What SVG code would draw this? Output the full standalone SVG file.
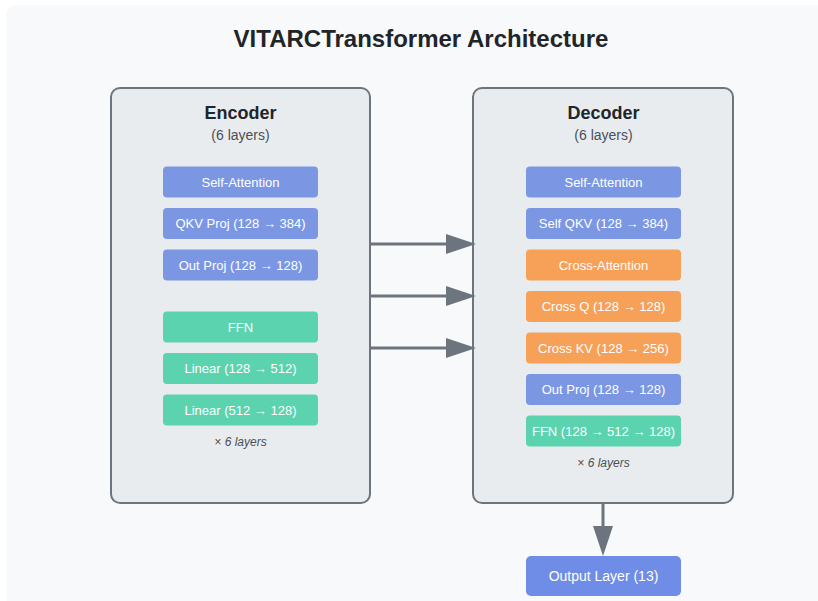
<svg xmlns="http://www.w3.org/2000/svg" width="818" height="601" viewBox="0 0 818 601">
<defs>
<marker id="ah" markerUnits="userSpaceOnUse" markerWidth="30" markerHeight="20" refX="1" refY="10" orient="auto">
<path d="M0,0 L30,10 L0,20 Z" fill="#6c757d"/>
</marker>
<style>
text{font-family:"Liberation Sans",Arial,sans-serif}
.title{font-size:24px;font-weight:bold;fill:#212529;text-anchor:middle}
.panel{fill:#e9ecef;stroke:#6c757d;stroke-width:2}
.ph{font-size:18px;font-weight:bold;fill:#212529;text-anchor:middle}
.ps{font-size:14px;fill:#495057;text-anchor:middle}
.note{font-size:12px;font-style:italic;fill:#495057;text-anchor:middle}
.it{font-size:13px;fill:#ffffff;text-anchor:middle}
.blue{fill:#7b97e4}
.green{fill:#5bd3af}
.orange{fill:#f6a058}
.out{fill:#6f8de6}
.conn{stroke:#6c757d;stroke-width:3;fill:none}
</style>
</defs>
<rect x="0" y="0" width="818" height="601" fill="#ffffff"/>
<rect x="6" y="5" width="830" height="620" rx="10" fill="#f8f9fa"/>
<text class="title" x="421" y="47">VITARCTransformer Architecture</text>

<g id="encoder">
<rect class="panel" x="111" y="88" width="259" height="415" rx="9"/>
<text class="ph" x="240.5" y="119">Encoder</text>
<text class="ps" x="240.5" y="140">(6 layers)</text>
<rect class="blue" x="163" y="166.5" width="155" height="31" rx="4"/>
<text class="it" x="240.5" y="186.5">Self-Attention</text>
<rect class="blue" x="163" y="208" width="155" height="31" rx="4"/>
<text class="it" x="240.5" y="228">QKV Proj (128 → 384)</text>
<rect class="blue" x="163" y="249.5" width="155" height="31" rx="4"/>
<text class="it" x="240.5" y="269.5">Out Proj (128 → 128)</text>
<rect class="green" x="163" y="311.5" width="155" height="31" rx="4"/>
<text class="it" x="240.5" y="331.5">FFN</text>
<rect class="green" x="163" y="353" width="155" height="31" rx="4"/>
<text class="it" x="240.5" y="373">Linear (128 → 512)</text>
<rect class="green" x="163" y="394.5" width="155" height="31" rx="4"/>
<text class="it" x="240.5" y="414.5">Linear (512 → 128)</text>
<text class="note" x="240.5" y="446">× 6 layers</text>
</g>

<g id="decoder">
<rect class="panel" x="473" y="88" width="260" height="415" rx="9"/>
<text class="ph" x="603.5" y="119">Decoder</text>
<text class="ps" x="603.5" y="140">(6 layers)</text>
<rect class="blue" x="526" y="166.5" width="155" height="31" rx="4"/>
<text class="it" x="603.5" y="186.5">Self-Attention</text>
<rect class="blue" x="526" y="208" width="155" height="31" rx="4"/>
<text class="it" x="603.5" y="228">Self QKV (128 → 384)</text>
<rect class="orange" x="526" y="249.5" width="155" height="31" rx="4"/>
<text class="it" x="603.5" y="269.5">Cross-Attention</text>
<rect class="orange" x="526" y="291" width="155" height="31" rx="4"/>
<text class="it" x="603.5" y="311">Cross Q (128 → 128)</text>
<rect class="orange" x="526" y="332.5" width="155" height="31" rx="4"/>
<text class="it" x="603.5" y="352.5">Cross KV (128 → 256)</text>
<rect class="blue" x="526" y="374" width="155" height="31" rx="4"/>
<text class="it" x="603.5" y="394">Out Proj (128 → 128)</text>
<rect class="green" x="526" y="415.5" width="155" height="31" rx="4"/>
<text class="it" x="603.5" y="435.5">FFN (128 → 512 → 128)</text>
<text class="note" x="603.5" y="467">× 6 layers</text>
</g>

<g id="output">
<rect class="out" x="526" y="556" width="155" height="40" rx="5"/>
<text class="it" x="603.5" y="581" style="font-size:14px">Output Layer (13)</text>
</g>

<g id="connectors">
<line class="conn" x1="371" y1="244" x2="447" y2="244" marker-end="url(#ah)"/>
<line class="conn" x1="371" y1="296" x2="447" y2="296" marker-end="url(#ah)"/>
<line class="conn" x1="371" y1="348" x2="447" y2="348" marker-end="url(#ah)"/>
<line class="conn" x1="603" y1="504" x2="603" y2="527" marker-end="url(#ah)"/>
</g>
</svg>
